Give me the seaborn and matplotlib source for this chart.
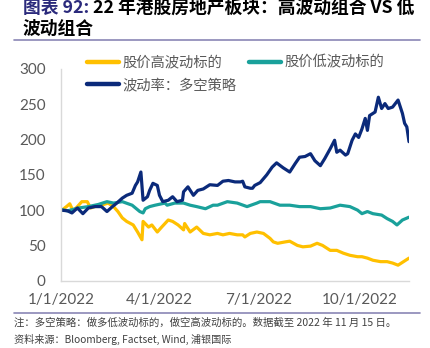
import matplotlib
matplotlib.use("Agg")
import matplotlib.pyplot as plt
from matplotlib.lines import Line2D
import seaborn as sns
import pandas as pd

# ---------------- data ----------------
high_dates = ["2022-01-01","2022-01-06","2022-01-09","2022-01-12","2022-01-16","2022-01-20","2022-01-25",
              "2022-01-28","2022-02-01","2022-02-07","2022-02-13","2022-02-18","2022-02-22","2022-02-26",
              "2022-03-02","2022-03-08","2022-03-12","2022-03-16","2022-03-17","2022-03-22","2022-03-25",
              "2022-03-30","2022-04-03","2022-04-09","2022-04-13","2022-04-18","2022-04-23","2022-04-24",
              "2022-04-29","2022-05-05","2022-05-11","2022-05-17","2022-05-24","2022-05-29","2022-06-04",
              "2022-06-11","2022-06-16","2022-06-18","2022-06-23","2022-06-29","2022-07-05","2022-07-11",
              "2022-07-14","2022-07-18","2022-07-25","2022-07-29","2022-08-05","2022-08-10","2022-08-17",
              "2022-08-23","2022-08-28","2022-09-04","2022-09-10","2022-09-16","2022-09-22","2022-09-29",
              "2022-10-03","2022-10-08","2022-10-13","2022-10-20","2022-10-26","2022-10-31","2022-11-05",
              "2022-11-10","2022-11-15"]
high_vals = [99,105,109,99,105,112,112,
             103,105,107,110,105,98,89,
             84,79,69,58,84,76,79,
             69,76,86,84,79,72,81,
             69,76,67,65,67,65,67,
             65,65,62,67,69,67,60,
             55,53,55,56,50,48,49,
             53,50,43,43,39,36,34,
             34,32,29,27,27,25,22,
             27,32]

low_dates = ["2022-01-01","2022-01-07","2022-01-17","2022-01-26","2022-02-04","2022-02-12","2022-02-18",
             "2022-02-26","2022-03-07","2022-03-14","2022-03-17","2022-03-19","2022-03-23","2022-03-28",
             "2022-04-06","2022-04-08","2022-04-15","2022-04-23","2022-04-29","2022-05-05","2022-05-13",
             "2022-05-20","2022-05-24","2022-06-02","2022-06-11","2022-06-20","2022-06-29","2022-07-02",
             "2022-07-11","2022-07-20","2022-07-29","2022-08-07","2022-08-17","2022-08-26","2022-09-04",
             "2022-09-13","2022-09-22","2022-09-29","2022-10-03","2022-10-08","2022-10-13","2022-10-21",
             "2022-10-26","2022-10-31","2022-11-04","2022-11-09","2022-11-15"]
low_vals = [101,99,103,105,108,112,110,
            112,107,98,96,102,105,107,
            110,107,110,110,107,105,102,
            107,107,112,110,105,110,112,
            112,107,107,105,105,102,103,
            107,105,100,95,98,95,93,
            88,84,79,86,90]

vol_dates = ["2022-01-01","2022-01-07","2022-01-11","2022-01-16","2022-01-21","2022-01-26","2022-02-01",
             "2022-02-07","2022-02-12","2022-02-17","2022-02-21","2022-02-26","2022-03-02","2022-03-07",
             "2022-03-10","2022-03-12","2022-03-15","2022-03-17","2022-03-21","2022-03-23","2022-03-26",
             "2022-03-30","2022-04-01","2022-04-04","2022-04-09","2022-04-13","2022-04-17","2022-04-22",
             "2022-04-23","2022-04-27","2022-05-02","2022-05-06","2022-05-11","2022-05-17","2022-05-24",
             "2022-05-29","2022-06-03","2022-06-09","2022-06-14","2022-06-16","2022-06-18","2022-06-23",
             "2022-06-25","2022-06-27","2022-07-02","2022-07-08","2022-07-13","2022-07-17","2022-07-23",
             "2022-07-29","2022-08-03","2022-08-07","2022-08-12","2022-08-17","2022-08-21","2022-08-26",
             "2022-08-30","2022-09-04","2022-09-08","2022-09-10","2022-09-13","2022-09-18","2022-09-20",
             "2022-09-24","2022-09-27","2022-09-30","2022-10-03","2022-10-06","2022-10-08","2022-10-10",
             "2022-10-15","2022-10-18","2022-10-21","2022-10-24","2022-10-27","2022-10-31","2022-11-05",
             "2022-11-09","2022-11-11","2022-11-13","2022-11-15"]
vol_vals = [100,99,96,103,95,103,105,
            105,98,105,110,117,121,124,
            135,140,154,114,119,128,138,
            135,121,112,114,119,112,114,
            126,133,121,128,130,136,135,
            141,142,140,140,141,133,131,
            131,135,139,150,161,167,160,
            154,166,175,176,180,170,163,
            173,187,199,182,185,178,180,
            199,208,203,215,230,213,234,
            239,260,244,251,244,246,256,
            237,223,218,197]

series_names = ["股价高波动标的", "股价低波动标的", "波动率：多空策略"]
series_colors = ["#FFC000", "#1AA19B", "#0B2A7A"]
x_ticks = ["2022-01-01", "2022-04-01", "2022-07-01", "2022-10-01"]
x_tick_labels = ["1/1/2022", "4/1/2022", "7/1/2022", "10/1/2022"]
y_ticks = [0, 50, 100, 150, 200, 250, 300]

title_part1 = "图表 92:"
title_part2 = " 22 年港股房地产板块：高波动组合 VS 低"
title_line2 = "波动组合"
note_text = "注：多空策略：做多低波动标的，做空高波动标的。数据截至 2022 年 11 月 15 日。"
source_text = "资料来源：Bloomberg, Factset, Wind, 浦银国际"

# ---------------- build frame ----------------
frames = []
for name, d, v in zip(series_names, [high_dates, low_dates, vol_dates], [high_vals, low_vals, vol_vals]):
    frames.append(pd.DataFrame({"date": pd.to_datetime(d), "value": v, "series": name}))
df = pd.concat(frames, ignore_index=True)

sns.set_theme(style="white")
plt.rcParams["font.family"] = ["Noto Sans CJK SC", "DejaVu Sans"]

W, H = 431, 348
fig = plt.figure(figsize=(W / 100, H / 100), dpi=100)
ax = fig.add_axes([61 / W, 1 - 280.7 / H, (409 - 61) / W, (280.7 - 69) / H])

sns.lineplot(data=df, x="date", y="value", hue="series", hue_order=series_names,
             palette=dict(zip(series_names, series_colors)), linewidth=2.3,
             legend=False, ax=ax, estimator=None)

ax.set_xlim(pd.Timestamp("2022-01-01"), pd.Timestamp("2022-11-15"))
ax.set_ylim(0, 300)
ax.set_yticks(y_ticks)
ax.set_xticks(pd.to_datetime(x_ticks))
ax.set_xticklabels(x_tick_labels)
ax.set_xlabel("")
ax.set_ylabel("")
for lab in ax.get_xticklabels() + ax.get_yticklabels():
    lab.set_family(["Lato", "DejaVu Sans"])
    lab.set_fontsize(11)
    lab.set_color("#595959")
ax.tick_params(axis="both", length=0)
ax.tick_params(axis="x", pad=9)
ax.tick_params(axis="y", pad=11)
for s in ["top", "right"]:
    ax.spines[s].set_visible(False)
for s in ["left", "bottom"]:
    ax.spines[s].set_color("#D9D9D9")
    ax.spines[s].set_linewidth(1.0)
ax.grid(False)

# legend
handles = [Line2D([], [], color=c, linewidth=3.2) for c in series_colors]
order = [0, 2, 1]
leg = fig.legend([handles[i] for i in order], [series_names[i] for i in order],
                 ncol=2, loc="upper left", bbox_to_anchor=(74 / W, 1 - 43 / H),
                 frameon=False, handlelength=2.25, handletextpad=0.25,
                 columnspacing=0.85, labelspacing=0.6,
                 prop={"family": ["Noto Sans CJK SC", "DejaVu Sans"], "size": 10.3})
for t in leg.get_texts():
    t.set_color("#595959")

# title
fig.canvas.draw()
r = fig.canvas.get_renderer()
t1 = fig.text(23 / W, 1 - 8 / H, title_part1, color="#2B2A7C", fontsize=12.8, fontweight="bold",
              va="center", ha="left")
bb = t1.get_window_extent(renderer=r)
fig.text(bb.x1 / W, 1 - 8 / H, title_part2, color="black", fontsize=12.8, fontweight="bold",
         va="center", ha="left")
fig.text(23 / W, 1 - 29 / H, title_line2, color="black", fontsize=12.8, fontweight="bold",
         va="center", ha="left")

# rules
rule_color = "#8A86B5"
fig.add_artist(Line2D([14 / W, 420 / W], [1 - 39.5 / H, 1 - 39.5 / H], color=rule_color, linewidth=1.2))
fig.add_artist(Line2D([14 / W, 420 / W], [1 - 313 / H, 1 - 313 / H], color=rule_color, linewidth=1.2))

# footnotes
fig.text(14 / W, 1 - 323 / H, note_text, fontsize=7.5, color="#404040", va="center", ha="left")
fig.text(14 / W, 1 - 339 / H, source_text, fontsize=7.3, color="#404040", va="center", ha="left")

fig.savefig("out.png", dpi=100)
